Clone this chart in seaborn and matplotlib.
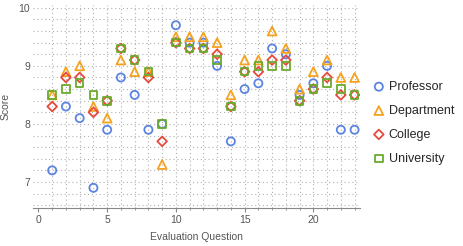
import numpy as np
import pandas as pd
import matplotlib
matplotlib.use("Agg")
import matplotlib.pyplot as plt
import seaborn as sns

# Данные: оценки по вопросам
questions = list(range(1, 24))
professor = [7.2, 8.3, 8.1, 6.9, 7.9, 8.8, 8.5, 7.9, 8.0, 9.7, 9.4, 9.4, 9.0, 7.7, 8.6, 8.7, 9.3, 9.2, 8.5, 8.7, 9.0, 7.9, 7.9]
department = [8.5, 8.9, 9.0, 8.3, 8.1, 9.1, 8.9, 8.9, 7.3, 9.5, 9.5, 9.5, 9.4, 8.5, 9.1, 9.1, 9.6, 9.3, 8.6, 8.9, 9.1, 8.8, 8.8]
college = [8.3, 8.8, 8.8, 8.2, 8.4, 9.3, 9.1, 8.8, 7.7, 9.4, 9.3, 9.3, 9.2, 8.3, 8.9, 8.9, 9.1, 9.1, 8.4, 8.6, 8.8, 8.5, 8.5]
university = [8.5, 8.6, 8.7, 8.5, 8.4, 9.3, 9.1, 8.9, 8.0, 9.4, 9.3, 9.3, 9.1, 8.3, 8.9, 9.0, 9.0, 9.0, 8.4, 8.6, 8.7, 8.6, 8.5]

series = {"Professor": professor, "Department": department,
          "College": college, "University": university}
df = pd.DataFrame([(k, q, v) for k, vals in series.items() for q, v in zip(questions, vals)],
                  columns=["group", "question", "score"])

colors = {"Professor": "#5b84e3", "Department": "#f5a21f",
          "College": "#e8493d", "University": "#6aab2c"}
markers = {"Professor": "o", "Department": "^", "College": "D", "University": "s"}
sizes = {"Professor": 34, "Department": 40, "College": 24, "University": 30}

sns.set_style("white")
plt.rcParams["font.family"] = ["Liberation Sans", "DejaVu Sans"]

fig = plt.figure(figsize=(4.64, 2.46), dpi=100)
ax = fig.add_axes([0.071, 0.154, 0.705, 0.826])

# сетка пунктиром
for yv in np.arange(6.6, 10.01, 0.2):
    ax.axhline(yv, color="#b0b0b0", lw=0.8, ls=(0, (1, 2.5)), zorder=0)
for q in questions:
    ax.axvline(q, color="#b0b0b0", lw=0.8, ls=(0, (1, 2.5)), zorder=0)

for name, g in df.groupby("group", sort=False):
    sns.scatterplot(data=g, x="question", y="score", ax=ax, marker=markers[name],
                    s=sizes[name], facecolor="none", edgecolor=colors[name],
                    color=colors[name], linewidth=1.3, label=name, zorder=3)

ax.set_xlim(-0.4, 23.4)
ax.set_ylim(6.55, 10.05)
ax.set_xticks([0, 5, 10, 15, 20])
ax.set_xticks(questions, minor=True)
ax.set_yticks([7, 8, 9, 10])
ax.tick_params(axis="x", which="major", length=3, color="#888888", labelsize=7.5,
               labelcolor="#555555", pad=2, bottom=True)
ax.tick_params(axis="x", which="minor", length=1.5, color="#888888", bottom=True)
ax.tick_params(axis="y", length=0, labelsize=7.5, labelcolor="#555555", pad=2)
for s in ["top", "right", "left"]:
    ax.spines[s].set_visible(False)
ax.spines["bottom"].set_color("#888888")
ax.set_xlabel("Evaluation Question", fontsize=7.5, color="#555555", labelpad=5)
ax.set_ylabel("Score", fontsize=7.5, color="#555555", labelpad=6)

ax.legend(loc="center left", bbox_to_anchor=(1.0, 0.42), frameon=False,
          fontsize=9, handletextpad=0.2, labelspacing=0.95, handlelength=1.2)

fig.savefig("out.png", dpi=100)
